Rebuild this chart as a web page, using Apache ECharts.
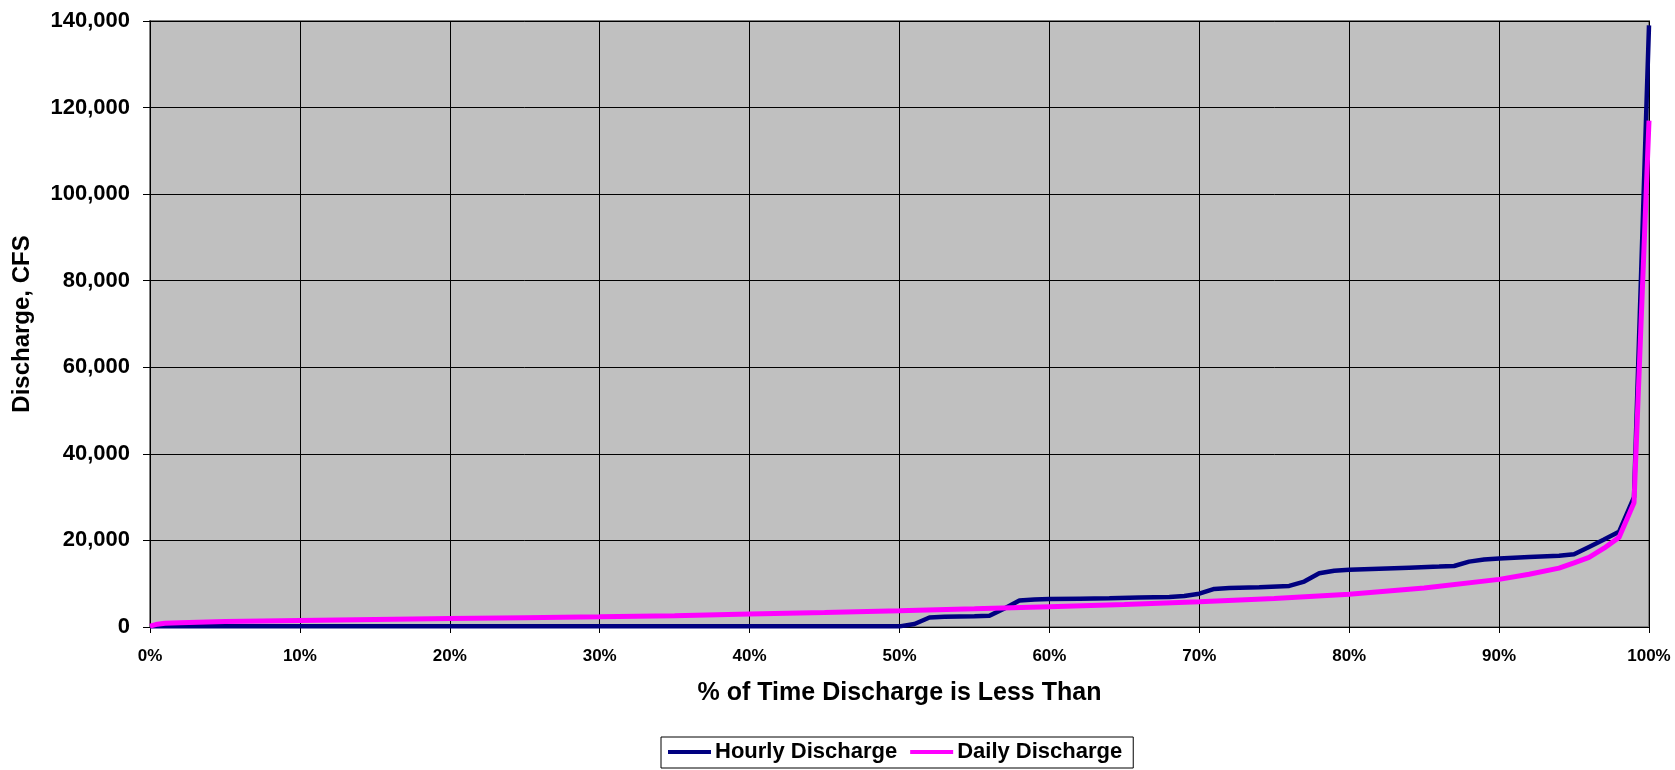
<!DOCTYPE html>
<html>
<head>
<meta charset="utf-8">
<script src="https://cdn.jsdelivr.net/npm/echarts@6/dist/echarts.min.js"></script>
<style>
  html, body { margin: 0; padding: 0; background: #fff; }
  #chart { width: 1675px; height: 770px; }
</style>
</head>
<body>
<div id="chart"></div>
<script>
// % of time (x) and discharge in CFS (y)
const hourlyPct = [0, 10, 20, 30, 40, 50, 51, 52, 53, 54, 55, 56, 57, 58, 59, 60, 62, 64, 66, 68, 69, 70, 71, 72, 74, 76, 77, 78, 79, 80, 82, 84, 86, 87, 88, 89, 90, 92, 94, 95, 96, 97, 98, 99, 100]
const hourlyVal = [150, 150, 150, 150, 150, 150, 700, 2200, 2350, 2450, 2500, 2600, 4300, 6100, 6350, 6450, 6550, 6650, 6800, 6950, 7150, 7700, 8800, 9000, 9200, 9500, 10500, 12400, 13000, 13200, 13450, 13700, 13950, 14100, 15100, 15600, 15850, 16150, 16450, 16800, 18500, 20200, 22000, 30000, 139000]

const dailyPct = [0, 0.5, 1, 2, 5, 10, 15, 20, 25, 30, 35, 40, 45, 50, 55, 60, 65, 70, 75, 80, 85, 90, 92, 94, 95, 96, 97, 98, 99, 100]
const dailyVal = [200, 650, 850, 1000, 1250, 1500, 1750, 1950, 2150, 2350, 2600, 3000, 3350, 3750, 4200, 4700, 5200, 5850, 6600, 7550, 9000, 11000, 12200, 13600, 14800, 16100, 18200, 20700, 28700, 117000]

const seriesNames = ['Hourly Discharge', 'Daily Discharge']
const xTitle = '% of Time Discharge is Less Than'
const yTitle = 'Discharge, CFS'

const pair = (xs, ys) => xs.map((x, i) => [x, ys[i]])

const chart = echarts.init(document.getElementById('chart'))
const font = 'Arial, "Liberation Sans", sans-serif'

chart.setOption({
  animation: false,
  textStyle: { fontFamily: font },
  grid: {
    left: 150,
    top: 21,
    right: 26,
    bottom: 143,
    show: true,
    backgroundColor: '#C0C0C0',
    borderColor: '#808080',
    borderWidth: 2
  },
  legend: {
    data: seriesNames,
    left: 661,
    top: 737,
    orient: 'horizontal',
    icon: 'rect',
    itemWidth: 43,
    itemHeight: 4,
    itemGap: 13,
    padding: [4, 11, 5, 7],
    borderColor: '#000',
    borderWidth: 1,
    backgroundColor: '#fff',
    textStyle: { fontSize: 22, fontWeight: 'bold', color: '#000', fontFamily: font, padding: [0, 0, 0, -1] }
  },
  xAxis: {
    type: 'value',
    min: 0,
    max: 100,
    interval: 10,
    name: xTitle,
    nameLocation: 'middle',
    nameGap: 54,
    nameTextStyle: { fontSize: 25, fontWeight: 'bold', color: '#000' },
    axisLine: { show: true, onZero: false, lineStyle: { color: '#000', width: 1 } },
    axisTick: { show: true, length: 6, lineStyle: { color: '#000' } },
    axisLabel: { formatter: '{value}%', fontSize: 17, fontWeight: 'bold', color: '#000', margin: 21 },
    splitLine: { show: true, lineStyle: { color: '#000', width: 1 } }
  },
  yAxis: {
    type: 'value',
    min: 0,
    max: 140000,
    interval: 20000,
    name: yTitle,
    nameLocation: 'middle',
    nameRotate: 90,
    nameGap: 116,
    nameTextStyle: { fontSize: 24, fontWeight: 'bold', color: '#000' },
    axisLine: { show: true, lineStyle: { color: '#000', width: 1 } },
    axisTick: { show: true, length: 7, lineStyle: { color: '#000' } },
    axisLabel: {
      formatter: (v) => v.toLocaleString('en-US'),
      fontSize: 22,
      fontWeight: 'bold',
      color: '#000',
      margin: 20
    },
    splitLine: { show: true, lineStyle: { color: '#000', width: 1 } }
  },
  series: [
    {
      name: seriesNames[0],
      type: 'line',
      data: pair(hourlyPct, hourlyVal),
      showSymbol: false,
      lineStyle: { color: '#000080', width: 4.5 },
      itemStyle: { color: '#000080' }
    },
    {
      name: seriesNames[1],
      type: 'line',
      data: pair(dailyPct, dailyVal),
      showSymbol: false,
      lineStyle: { color: '#FF00FF', width: 5 },
      itemStyle: { color: '#FF00FF' }
    }
  ]
})
</script>
</body>
</html>
